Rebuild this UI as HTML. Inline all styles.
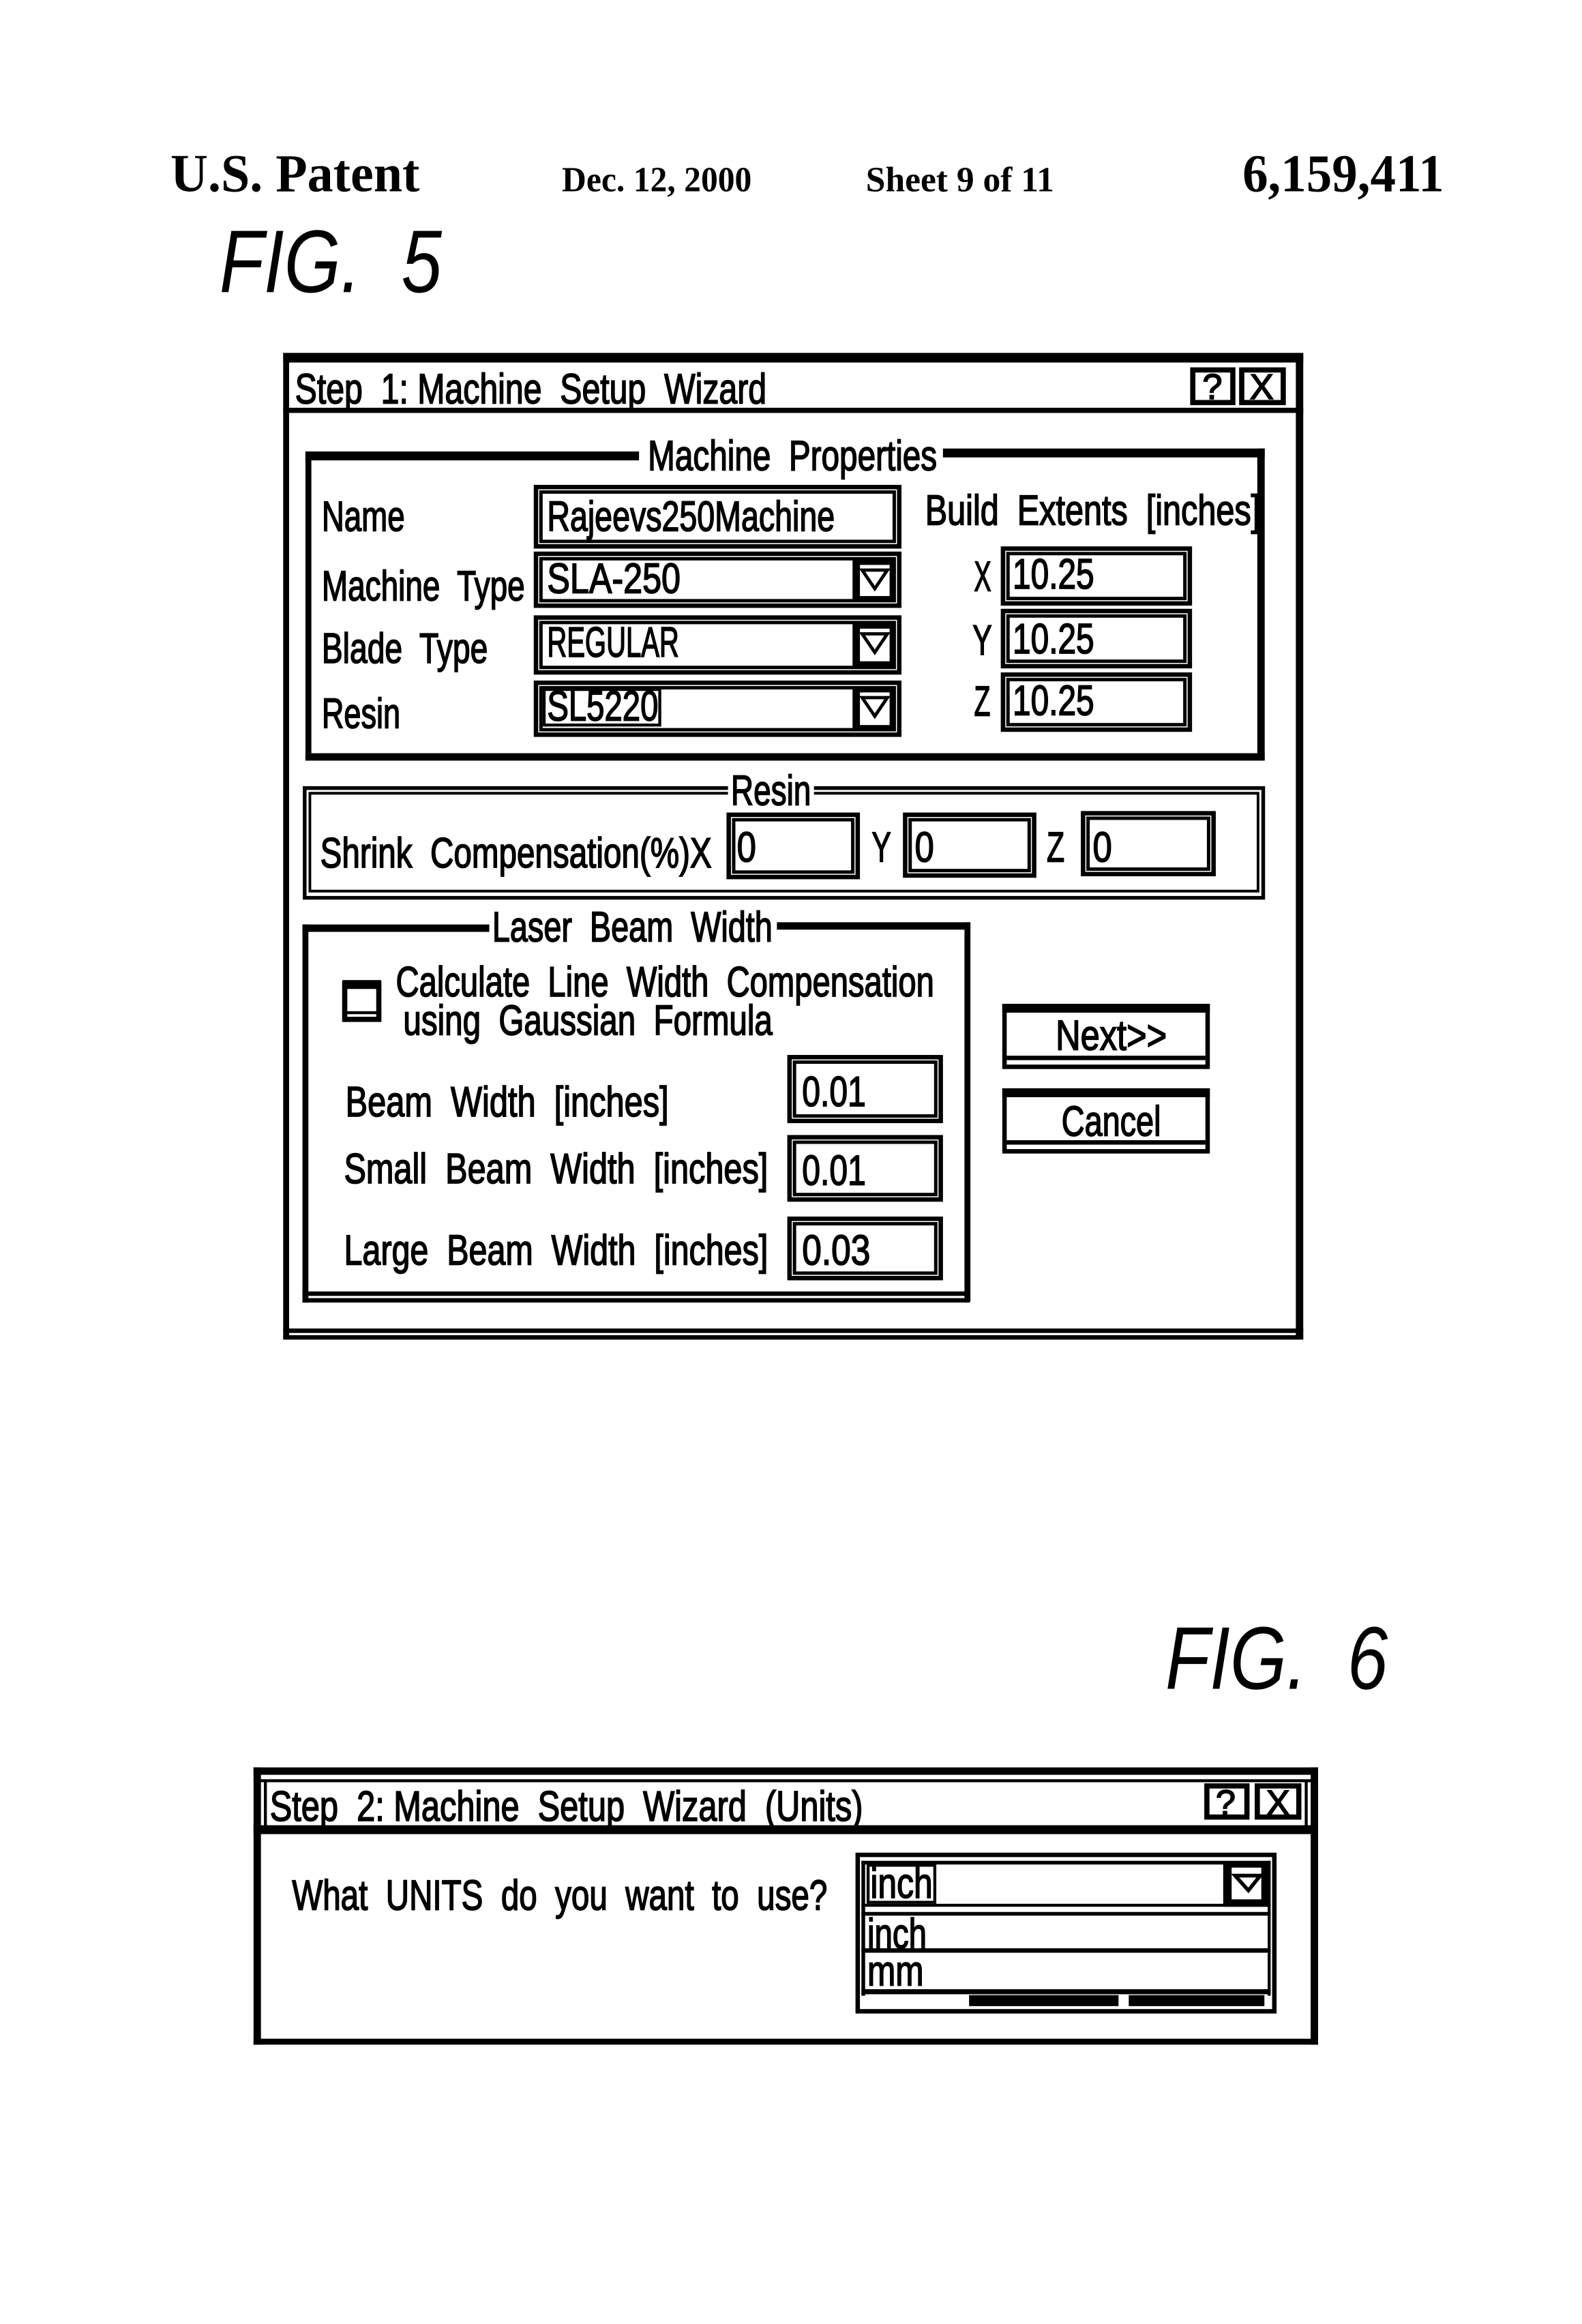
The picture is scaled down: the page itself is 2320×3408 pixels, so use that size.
<!DOCTYPE html>
<html><head><meta charset="utf-8"><title>U.S. Patent 6,159,411 Sheet 9 of 11</title>
<style>
html,body{margin:0;padding:0;background:#fff}
svg{display:block;width:2320px;height:3408px}
text{font-family:"Liberation Sans",sans-serif;font-size:28.5px;fill:#000;stroke:#000;stroke-width:.8;white-space:pre}
.h{font-family:"Liberation Serif",serif;font-weight:bold;stroke:none}
.f{font-style:italic;font-size:60px;stroke:none}
.b{fill:none;stroke:#000}
.w{fill:#fff}
.k{fill:#000}
</style></head><body>
<svg xmlns="http://www.w3.org/2000/svg" viewBox="0 0 1067 1567.4">
<rect width="1067" height="1567.4" fill="#fff"/>
<text class="h" x="115" y="129" style="font-size:36px" textLength="168" lengthAdjust="spacingAndGlyphs">U.S. Patent</text>
<text class="h" x="379" y="129" style="font-size:24px" textLength="128" lengthAdjust="spacingAndGlyphs">Dec. 12, 2000</text>
<text class="h" x="584" y="129" style="font-size:24px" textLength="127" lengthAdjust="spacingAndGlyphs">Sheet 9 of 11</text>
<text class="h" x="838" y="129" style="font-size:36px" textLength="136" lengthAdjust="spacingAndGlyphs">6,159,411</text>
<text class="f" x="148" y="197" textLength="150" lengthAdjust="spacingAndGlyphs">FIG.  5</text>

<!-- Window 1 -->
<rect class="k" x="191" y="238" width="688" height="6.500"/>
<rect class="k" x="191" y="238" width="4" height="665"/>
<rect class="k" x="874" y="238" width="5" height="665"/>
<rect class="k" x="191" y="896" width="688" height="3"/>
<rect class="k" x="191" y="900.500" width="688" height="3"/>
<rect class="k" x="191" y="275" width="688" height="3.500"/>
<text x="199" y="272" textLength="318" lengthAdjust="spacingAndGlyphs">Step  1: Machine  Setup  Wizard</text>
<rect class="b" x="804.500" y="249.500" width="27" height="22" stroke-width="3.500"/>
<rect class="b" x="837.500" y="249.500" width="28" height="22" stroke-width="3.500"/>
<text x="811" y="269" style="font-size:24px">?</text>
<text x="843" y="269" style="font-size:24px">X</text>

<!-- Machine Properties -->
<rect class="k" x="206" y="304.500" width="225" height="6"/>
<rect class="k" x="636" y="302.500" width="217" height="6"/>
<rect class="k" x="206" y="304.500" width="4" height="208"/>
<rect class="k" x="848" y="302.500" width="5" height="210"/>
<rect class="k" x="206" y="508" width="647" height="5"/>
<text x="437" y="317" textLength="195" lengthAdjust="spacingAndGlyphs">Machine  Properties</text>
<text x="217" y="358" textLength="56" lengthAdjust="spacingAndGlyphs">Name</text>
<text x="217" y="405" textLength="137" lengthAdjust="spacingAndGlyphs">Machine  Type</text>
<text x="217" y="447" textLength="112" lengthAdjust="spacingAndGlyphs">Blade  Type</text>
<text x="217" y="491" textLength="53" lengthAdjust="spacingAndGlyphs">Resin</text>

<rect class="b" x="361.500" y="328.500" width="245" height="40" stroke-width="3"/>
<rect class="b" x="364.850" y="331.850" width="238.300" height="33.300" stroke-width="2.300"/>
<text x="369" y="358" textLength="194" lengthAdjust="spacingAndGlyphs">Rajeevs250Machine</text>

<g>
<rect class="b" x="361.500" y="373.500" width="245" height="35" stroke-width="3"/>
<rect class="b" x="364.850" y="376.850" width="238.300" height="28.300" stroke-width="2.300"/>
<rect class="k" x="575" y="377" width="28" height="28"/>
<rect class="w" x="580" y="381" width="20" height="21"/>
<path class="b" d="M581.500 384.500H598.500L590 397Z" stroke-width="2.200"/>
<text x="369" y="400" textLength="90" lengthAdjust="spacingAndGlyphs">SLA-250</text>
</g>
<g>
<rect class="b" x="361.500" y="416.500" width="245" height="37" stroke-width="3"/>
<rect class="b" x="364.850" y="419.850" width="238.300" height="30.300" stroke-width="2.300"/>
<rect class="k" x="575" y="420" width="28" height="30"/>
<rect class="w" x="580" y="424" width="20" height="22"/>
<path class="b" d="M581.500 427.500H598.500L590 440Z" stroke-width="2.200"/>
<text x="369" y="443" textLength="89" lengthAdjust="spacingAndGlyphs">REGULAR</text>
</g>
<g>
<rect class="b" x="361.500" y="460.500" width="245" height="35" stroke-width="3"/>
<rect class="b" x="364.850" y="463.850" width="238.300" height="28.300" stroke-width="2.300"/>
<rect class="k" x="575" y="464" width="28" height="28"/>
<rect class="w" x="580" y="467" width="20" height="22"/>
<path class="b" d="M581.500 470.500H598.500L590 483Z" stroke-width="2.200"/>
<rect class="b" x="367" y="465" width="78" height="24" stroke-width="2"/>
<text x="369" y="486" textLength="75" lengthAdjust="spacingAndGlyphs">SL5220</text>
</g>

<text x="624" y="354" textLength="226" lengthAdjust="spacingAndGlyphs">Build  Extents  [inches]</text>
<text x="657" y="398.600" textLength="11.500" lengthAdjust="spacingAndGlyphs">X</text>
<text x="656" y="441.600" textLength="13" lengthAdjust="spacingAndGlyphs">Y</text>
<text x="657" y="482.700" textLength="11" lengthAdjust="spacingAndGlyphs">Z</text>
<rect class="b" x="676.500" y="370" width="126" height="37" stroke-width="3"/>
<rect class="b" x="679.850" y="373.350" width="119.300" height="30.300" stroke-width="2.300"/>
<text x="683" y="397" textLength="55" lengthAdjust="spacingAndGlyphs">10.25</text>
<rect class="b" x="676.500" y="412.100" width="126" height="37.200" stroke-width="3"/>
<rect class="b" x="679.850" y="415.450" width="119.300" height="30.500" stroke-width="2.300"/>
<text x="683" y="440.600" textLength="55" lengthAdjust="spacingAndGlyphs">10.25</text>
<rect class="b" x="676.500" y="455" width="126" height="37.100" stroke-width="3"/>
<rect class="b" x="679.850" y="458.350" width="119.300" height="30.400" stroke-width="2.300"/>
<text x="683" y="482.300" textLength="55" lengthAdjust="spacingAndGlyphs">10.25</text>

<!-- Resin -->
<path class="b" stroke-width="2.500" d="M491 531.500H205.500V605.500H852V531.500H549"/>
<path class="b" stroke-width="1.800" d="M491 535H209V601H848.500V535H549"/>
<text x="493" y="543" textLength="54" lengthAdjust="spacingAndGlyphs">Resin</text>
<text x="216" y="585" textLength="264" lengthAdjust="spacingAndGlyphs">Shrink  Compensation(%)X</text>
<rect class="b" x="491.500" y="549.500" width="87" height="42" stroke-width="3"/>
<rect class="b" x="494.850" y="552.850" width="80.300" height="35.300" stroke-width="2.300"/>
<text x="497" y="581" textLength="13" lengthAdjust="spacingAndGlyphs">0</text>
<text x="588" y="581" textLength="13" lengthAdjust="spacingAndGlyphs">Y</text>
<rect class="b" x="610.500" y="549.500" width="87" height="41" stroke-width="3"/>
<rect class="b" x="613.850" y="552.850" width="80.300" height="34.300" stroke-width="2.300"/>
<text x="617" y="581" textLength="13" lengthAdjust="spacingAndGlyphs">0</text>
<text x="706" y="581" textLength="12" lengthAdjust="spacingAndGlyphs">Z</text>
<rect class="b" x="730.500" y="548.500" width="88" height="41" stroke-width="3"/>
<rect class="b" x="733.850" y="551.850" width="81.300" height="34.300" stroke-width="2.300"/>
<text x="737" y="581" textLength="13" lengthAdjust="spacingAndGlyphs">0</text>

<!-- Laser -->
<rect class="k" x="204" y="623.500" width="126" height="5"/>
<rect class="k" x="524" y="622" width="130.500" height="5"/>
<rect class="k" x="204" y="623.500" width="4" height="255"/>
<rect class="k" x="650.500" y="622" width="4" height="256"/>
<rect class="k" x="204" y="871" width="450" height="3"/>
<rect class="k" x="204" y="875.500" width="450" height="3"/>
<text x="332" y="635" textLength="189" lengthAdjust="spacingAndGlyphs">Laser  Beam  Width</text>
<rect class="b" x="232.500" y="663.500" width="23" height="24" stroke-width="3.500"/>
<rect class="k" x="231" y="661" width="26" height="6"/>
<rect class="k" x="233" y="682" width="22" height="2"/>
<text x="267" y="672" textLength="363" lengthAdjust="spacingAndGlyphs">Calculate  Line  Width  Compensation</text>
<text x="272" y="698" textLength="249" lengthAdjust="spacingAndGlyphs">using  Gaussian  Formula</text>
<text x="233" y="753" textLength="218" lengthAdjust="spacingAndGlyphs">Beam  Width  [inches]</text>
<text x="232" y="798" textLength="286" lengthAdjust="spacingAndGlyphs">Small  Beam  Width  [inches]</text>
<text x="232" y="853" textLength="286" lengthAdjust="spacingAndGlyphs">Large  Beam  Width  [inches]</text>
<rect class="b" x="532.500" y="713" width="102" height="43" stroke-width="3"/>
<rect class="b" x="535.850" y="716.350" width="95.300" height="36.300" stroke-width="2.300"/>
<text x="541" y="746" textLength="43" lengthAdjust="spacingAndGlyphs">0.01</text>
<rect class="b" x="532.500" y="767" width="102" height="42" stroke-width="3"/>
<rect class="b" x="535.850" y="770.350" width="95.300" height="35.300" stroke-width="2.300"/>
<text x="541" y="799" textLength="43" lengthAdjust="spacingAndGlyphs">0.01</text>
<rect class="b" x="532.500" y="822" width="102" height="40" stroke-width="3"/>
<rect class="b" x="535.850" y="825.350" width="95.300" height="33.300" stroke-width="2.300"/>
<text x="541" y="853" textLength="46" lengthAdjust="spacingAndGlyphs">0.03</text>

<!-- Buttons -->
<rect class="b" x="677.500" y="678.500" width="137" height="41" stroke-width="3"/>
<rect class="k" x="676" y="677" width="140" height="6"/>
<rect class="k" x="679" y="712" width="134" height="3"/>
<text x="712" y="708" textLength="75" lengthAdjust="spacingAndGlyphs">Next&gt;&gt;</text>
<rect class="b" x="677.500" y="735.500" width="137" height="41" stroke-width="3"/>
<rect class="k" x="676" y="734" width="140" height="6"/>
<rect class="k" x="679" y="769" width="134" height="3"/>
<text x="716" y="766" textLength="67" lengthAdjust="spacingAndGlyphs">Cancel</text>

<text class="f" x="786" y="1139" textLength="150" lengthAdjust="spacingAndGlyphs">FIG.  6</text>

<!-- Window 2 -->
<rect class="k" x="171" y="1192" width="718" height="5"/>
<rect class="k" x="171" y="1192" width="5" height="187"/>
<rect class="k" x="884" y="1192" width="5" height="187"/>
<rect class="k" x="171" y="1375" width="718" height="4"/>
<rect class="k" x="171" y="1231" width="718" height="6"/>
<rect class="k" x="171" y="1200" width="718" height="2"/>
<rect class="k" x="178" y="1202" width="2" height="30"/>
<rect class="k" x="880" y="1202" width="2" height="30"/>
<text x="182" y="1228" textLength="400" lengthAdjust="spacingAndGlyphs">Step  2: Machine  Setup  Wizard  (Units)</text>
<rect class="b" x="814" y="1204.500" width="27" height="21" stroke-width="3.500"/>
<rect class="b" x="848" y="1204.500" width="28" height="21" stroke-width="3.500"/>
<text x="820" y="1224" style="font-size:24px">?</text>
<text x="854" y="1224" style="font-size:24px">X</text>
<text x="197" y="1288" textLength="361" lengthAdjust="spacingAndGlyphs">What  UNITS  do  you  want  to  use?</text>

<!-- Combo -->
<rect class="b" x="578.500" y="1251" width="281" height="105.500" stroke-width="3"/>
<rect class="k" x="581" y="1255" width="276" height="2.500"/>
<rect class="k" x="581" y="1255" width="2.500" height="91"/>
<rect class="k" x="855" y="1255" width="2" height="91"/>
<rect class="k" x="825" y="1257" width="30" height="29"/>
<rect class="w" x="830.700" y="1259.600" width="20" height="21.400"/>
<path class="b" d="M833 1265H850L842 1275Z" stroke-width="2.500"/>
<rect class="k" x="581" y="1284" width="276" height="2"/>
<rect class="k" x="581" y="1289.500" width="276" height="2.500"/>
<rect class="b" x="585.500" y="1258" width="45" height="25" stroke-width="2"/>
<text x="587" y="1280" textLength="42" lengthAdjust="spacingAndGlyphs">inch</text>
<text x="585" y="1314" textLength="40" lengthAdjust="spacingAndGlyphs">inch</text>
<rect class="k" x="581" y="1314" width="276" height="3"/>
<text x="585" y="1339" textLength="38" lengthAdjust="spacingAndGlyphs">mm</text>
<rect class="k" x="581" y="1341.600" width="276" height="3.400"/>
<rect class="k" x="653.600" y="1345.600" width="100.800" height="7.400"/>
<rect class="k" x="761.300" y="1345.600" width="91.500" height="7.400"/>
</svg>
</body></html>
